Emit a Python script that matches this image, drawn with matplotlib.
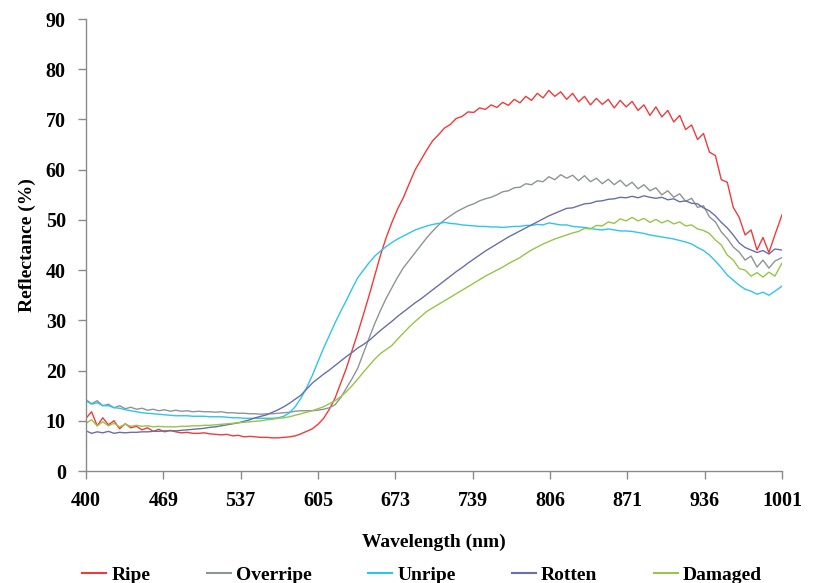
import numpy as np
import matplotlib
matplotlib.use("Agg")
import matplotlib.pyplot as plt

# Category ticks on the wavelength axis (evenly spaced in the chart)
tick_wl = [400, 469, 537, 605, 673, 739, 806, 871, 936, 1001]

# Sampled wavelengths (nm)
wavelength = list(range(400, 1000, 5)) + [1001]

ripe = [10.5, 11.8, 9.0, 10.6, 9.2, 10.0, 8.4, 9.4, 8.6, 8.9,
        8.2, 8.6, 7.9, 8.3, 7.8, 8.1, 7.8, 7.6, 7.7, 7.5,
        7.5, 7.6, 7.4, 7.3, 7.2, 7.3, 7.0, 7.1, 6.8, 6.9,
        6.8, 6.7, 6.7, 6.6, 6.6, 6.7, 6.8, 7.0, 7.4, 7.9,
        8.4, 9.3, 10.5, 12.3, 14.5, 17.5, 20.5, 24.0, 27.5, 31.2,
        35.0, 39.0, 43.0, 46.5, 49.5, 52.2, 54.5, 57.3, 60.0, 62.0,
        64.0, 65.8, 67.0, 68.3, 69.0, 70.2, 70.6, 71.5, 71.4, 72.3,
        72.0, 72.9, 72.4, 73.4, 72.8, 74.0, 73.3, 74.6, 73.8, 75.2,
        74.3, 75.8, 74.6, 75.5, 74.0, 75.2, 73.5, 74.6, 72.9, 74.2,
        73.0, 74.0, 72.3, 73.8, 72.5, 73.6, 71.8, 72.9, 70.8, 72.5,
        70.5, 71.8, 69.5, 70.8, 68.0, 68.9, 66.0, 67.2, 63.5, 62.8,
        58.0, 57.5, 52.5, 50.5, 47.0, 48.0, 44.0, 46.5, 43.5, 47.0,
        51.0]

overripe = [14.2, 13.4, 14.0, 13.0, 13.3, 12.6, 13.0, 12.4, 12.7, 12.3,
            12.5, 12.1, 12.3, 12.0, 12.2, 11.9, 12.1, 11.9, 12.0, 11.8,
            11.9, 11.8, 11.8, 11.7, 11.8, 11.6, 11.6, 11.5, 11.5, 11.4,
            11.4, 11.3, 11.4, 11.4, 11.5, 11.6, 11.7, 11.9, 12.0, 12.0,
            12.0, 12.1, 12.3, 12.6, 13.2, 14.6, 16.5, 18.4, 20.5, 23.5,
            26.5, 29.4, 32.0, 34.4, 36.5, 38.6, 40.5, 42.0, 43.5, 45.0,
            46.5, 47.8, 49.0, 50.0, 50.8, 51.6, 52.2, 52.8, 53.2, 53.8,
            54.2, 54.5, 55.0, 55.6, 55.8, 56.4, 56.5, 57.2, 57.0, 57.8,
            57.6, 58.6, 58.0, 59.0, 58.3, 58.9, 57.8, 58.8, 57.6, 58.3,
            57.2, 58.1, 57.0, 57.9, 56.7, 57.5, 56.2, 57.0, 55.8, 56.4,
            55.0, 55.8, 54.5, 55.2, 53.7, 54.3, 52.5, 52.8, 50.6, 49.6,
            47.6, 46.3, 44.6, 43.6, 42.0, 42.8, 40.6, 42.0, 40.4, 41.8,
            42.5]

unripe = [14.0, 13.3, 13.6, 13.0, 13.0, 12.6, 12.5, 12.2, 12.0, 11.8,
          11.6, 11.5, 11.4, 11.3, 11.2, 11.1, 11.0, 11.0, 11.0, 10.9,
          10.9, 10.9, 10.8, 10.8, 10.8, 10.7, 10.6, 10.6, 10.5, 10.5,
          10.5, 10.5, 10.5, 10.5, 10.6, 10.9, 11.6, 12.8, 14.5, 16.6,
          19.0, 21.8, 24.5, 27.0, 29.5, 31.8, 34.0, 36.3, 38.5, 40.0,
          41.5, 42.8, 43.8, 44.7, 45.5, 46.2, 46.8, 47.4, 48.0, 48.4,
          48.8, 49.1, 49.3, 49.5, 49.3, 49.2, 49.0, 48.9, 48.8, 48.7,
          48.7, 48.6, 48.6, 48.5, 48.6, 48.7, 48.7, 48.9, 48.9, 49.1,
          49.0, 49.4, 49.2, 49.0, 49.0, 48.7, 48.6, 48.5, 48.3, 48.1,
          48.0, 48.2, 48.0, 47.8, 47.8, 47.7, 47.5, 47.3, 47.0, 46.8,
          46.6, 46.4, 46.2, 45.9, 45.6, 45.2, 44.5, 43.9, 43.0, 41.8,
          40.5, 39.0, 38.0, 37.0, 36.2, 35.8, 35.2, 35.6, 35.0, 35.8,
          36.8]

rotten = [8.0, 7.5, 7.8, 7.6, 7.9, 7.5, 7.7, 7.6, 7.7, 7.7,
          7.8, 7.8, 7.9, 7.9, 8.0, 8.0, 8.0, 8.1, 8.2, 8.3,
          8.4, 8.5, 8.7, 8.8, 9.0, 9.2, 9.4, 9.6, 9.9, 10.2,
          10.6, 10.9, 11.2, 11.7, 12.2, 12.8, 13.5, 14.3, 15.1, 16.3,
          17.5, 18.4, 19.3, 20.1, 21.0, 21.9, 22.8, 23.6, 24.5, 25.2,
          26.0, 27.0, 28.0, 28.9, 29.8, 30.8, 31.7, 32.6, 33.5, 34.3,
          35.2, 36.1, 37.0, 37.9, 38.8, 39.7, 40.5, 41.4, 42.2, 43.0,
          43.8, 44.5, 45.2, 45.9, 46.6, 47.2, 47.8, 48.4, 49.0, 49.6,
          50.2, 50.8, 51.3, 51.8, 52.3, 52.4, 52.8, 53.2, 53.3, 53.7,
          53.8, 54.1, 54.2, 54.5, 54.4, 54.7, 54.4, 54.8, 54.5, 54.3,
          54.5, 54.0, 54.2, 53.6, 53.8, 53.3, 53.2, 52.4, 51.8, 50.8,
          49.5, 48.4, 47.0, 45.4, 44.5, 44.0, 43.5, 43.9, 43.2, 44.2,
          44.0]

damaged = [9.5, 10.2, 9.0, 9.8, 9.0, 9.5, 8.8, 9.3, 8.9, 9.1,
           8.9, 9.0, 8.8, 8.9, 8.8, 8.8, 8.8, 8.9, 8.9, 9.0,
           9.0, 9.1, 9.1, 9.2, 9.3, 9.4, 9.5, 9.6, 9.7, 9.8,
           9.9, 10.0, 10.2, 10.3, 10.5, 10.6, 10.8, 11.1, 11.4, 11.7,
           12.0, 12.4, 12.8, 13.4, 14.0, 14.8, 15.8, 17.0, 18.3, 19.7,
           21.0, 22.3, 23.4, 24.2, 25.0, 26.3, 27.5, 28.7, 29.8, 30.8,
           31.8, 32.5, 33.2, 33.9, 34.6, 35.3, 36.0, 36.7, 37.4, 38.1,
           38.8, 39.4, 40.0, 40.6, 41.3, 41.9, 42.5, 43.3, 44.0, 44.6,
           45.2, 45.7, 46.2, 46.6, 47.0, 47.4, 47.7, 48.3, 48.2, 48.9,
           48.8, 49.6, 49.3, 50.2, 49.8, 50.5, 49.8, 50.3, 49.5, 50.1,
           49.4, 49.9, 49.2, 49.6, 48.8, 49.0, 48.2, 47.9, 47.3, 46.0,
           45.0, 43.0, 42.0, 40.3, 40.0, 38.8, 39.5, 38.6, 39.6, 38.8,
           41.4]

series_names = ["Ripe", "Overripe", "Unripe", "Rotten", "Damaged"]
series_values = [ripe, overripe, unripe, rotten, damaged]
colors = ["#EE3B3B", "#8E9494", "#2EC4EE", "#6870A8", "#97C449"]

serif = ["Liberation Serif", "DejaVu Serif"]
plt.rcParams["font.family"] = serif
plt.rcParams["font.weight"] = "bold"

fig = plt.figure(figsize=(8.18, 5.83), dpi=100)
ax = fig.add_axes([0.1051, 0.1921, 0.8509, 0.7753])

tick_pos = np.arange(len(tick_wl), dtype=float)
fwd = lambda x: np.interp(x, tick_wl, tick_pos)
inv = lambda p: np.interp(p, tick_pos, tick_wl)
ax.set_xscale("function", functions=(fwd, inv))

for name, vals, c in zip(series_names, series_values, colors):
    ax.plot(wavelength, vals, color=c, lw=1.0, label=name)

ax.set_xlim(400, 1001)
ax.set_ylim(0, 90)
ax.set_xticks(tick_wl)
ax.set_xticklabels([str(t) for t in tick_wl])
ax.set_yticks(range(0, 91, 10))
ax.minorticks_off()

for s in ["top", "right"]:
    ax.spines[s].set_visible(False)
for s in ["left", "bottom"]:
    ax.spines[s].set_color("#8A8A8A")
    ax.spines[s].set_linewidth(1.0)

ax.tick_params(axis="both", direction="out", color="#8A8A8A", length=5.5,
               width=1.0, labelsize=14.5, labelcolor="black")
ax.tick_params(axis="x", pad=9)
ax.tick_params(axis="y", pad=9)
for lab in ax.get_xticklabels() + ax.get_yticklabels():
    lab.set_fontweight("bold")

ax.set_xlabel("Wavelength (nm)", fontsize=14, fontweight="bold", labelpad=16)
ax.set_ylabel("Reflectance (%)", fontsize=14, fontweight="bold", labelpad=7)

leg = fig.legend(loc="center", bbox_to_anchor=(0.516, 0.014), ncol=5,
                 frameon=False, prop={"family": serif, "weight": "bold", "size": 14},
                 handlelength=1.25, handletextpad=0.25, columnspacing=2.9,
                 borderaxespad=0, borderpad=0)
for line in leg.get_lines():
    line.set_linewidth(1.5)

fig.savefig("out.png", dpi=100)
